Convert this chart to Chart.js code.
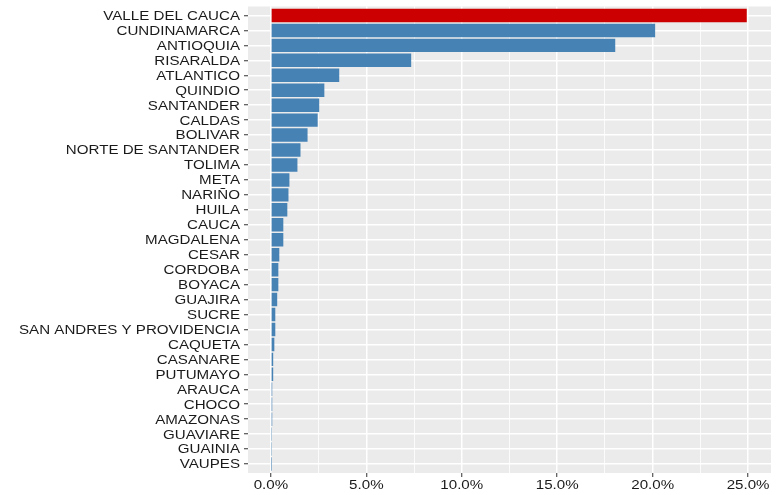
<!DOCTYPE html>
<html>
<head>
<meta charset="utf-8">
<script src="https://cdn.jsdelivr.net/npm/chart.js@4/dist/chart.umd.min.js"></script>
<style>
  html, body { margin: 0; padding: 0; background: #fff; }
  canvas { display: block; }
</style>
</head>
<body>
<canvas id="chart" width="778" height="495"></canvas>
<script>
'use strict';

// departments, top to bottom, and their share in percent
const departments = [
  'VALLE DEL CAUCA', 'CUNDINAMARCA', 'ANTIOQUIA', 'RISARALDA', 'ATLANTICO',
  'QUINDIO', 'SANTANDER', 'CALDAS', 'BOLIVAR', 'NORTE DE SANTANDER',
  'TOLIMA', 'META', 'NARIÑO', 'HUILA', 'CAUCA', 'MAGDALENA', 'CESAR',
  'CORDOBA', 'BOYACA', 'GUAJIRA', 'SUCRE', 'SAN ANDRES Y PROVIDENCIA',
  'CAQUETA', 'CASANARE', 'PUTUMAYO', 'ARAUCA', 'CHOCO', 'AMAZONAS',
  'GUAVIARE', 'GUAINIA', 'VAUPES'
];
const shares = [
  24.93, 20.13, 18.04, 7.35, 3.58,
  2.80, 2.53, 2.45, 1.92, 1.55,
  1.39, 0.97, 0.92, 0.86, 0.65, 0.65, 0.44,
  0.39, 0.39, 0.33, 0.23, 0.23,
  0.18, 0.12, 0.12, 0.07, 0.07, 0.07,
  0.02, 0.02, 0.01
];
const majorTicks = [0, 5, 10, 15, 20, 25];
const minorTicks = [2.5, 7.5, 12.5, 17.5, 22.5];
const tickLabels = ['0.0%', '5.0%', '10.0%', '15.0%', '20.0%', '25.0%'];

const isMajor = c => c.tick && majorTicks.includes(c.tick.value);

// grey ggplot panel behind the grid
const panel = {
  id: 'panel',
  beforeDraw(chart) {
    const {ctx, chartArea: a} = chart;
    ctx.save();
    ctx.fillStyle = '#FFFFFF';
    ctx.fillRect(0, 0, chart.width, chart.height);
    ctx.fillStyle = '#EBEBEB';
    ctx.fillRect(a.left, a.top, a.right - a.left, a.bottom - a.top);
    ctx.restore();
  }
};

// the original picture is stretched sideways, so the tick text is too
const STRETCH = 1.26;
const axisText = {
  id: 'axisText',
  afterDraw(chart) {
    const {ctx, scales: {x, y}} = chart;
    ctx.save();
    ctx.font = '12px "Liberation Sans", Arial, sans-serif';
    ctx.fillStyle = '#1A1A1A';
    ctx.textBaseline = 'alphabetic';

    ctx.textAlign = 'right';
    y.ticks.forEach(t => {
      ctx.save();
      ctx.translate(y.right - 8, y.getPixelForValue(t.value) + 4.4);
      ctx.scale(STRETCH, 1);
      ctx.fillText(t.label, 0, 0);
      ctx.restore();
    });

    ctx.textAlign = 'center';
    x.ticks.forEach(t => {
      if (!t.label) return;
      ctx.save();
      ctx.translate(x.getPixelForValue(t.value), x.top + 15.5);
      ctx.scale(STRETCH, 1);
      ctx.fillText(t.label, 0, 0);
      ctx.restore();
    });
    ctx.restore();
  }
};

const ctx = document.getElementById('chart').getContext('2d');

new Chart(ctx, {
  type: 'bar',
  data: {
    datasets: [{
      data: shares.map((v, i) => ({x: v, y: i})),
      backgroundColor: departments.map((d, i) => i === 0 ? '#CC0000' : '#4682B4'),
      borderWidth: 0,
      barPercentage: 0.9,
      categoryPercentage: 1
    }]
  },
  options: {
    indexAxis: 'y',
    responsive: false,
    animation: false,
    layout: { padding: { top: 6.5, right: 7, bottom: 0, left: 0 } },
    plugins: {
      legend: { display: false },
      tooltip: { enabled: false }
    },
    scales: {
      x: {
        type: 'linear',
        min: -1.2,
        max: 26.2,
        offset: false,
        afterBuildTicks: s => {
          s.ticks = majorTicks.concat(minorTicks).sort((a, b) => a - b).map(v => ({value: v}));
        },
        afterFit: s => { s.height = 22; },
        border: { display: false },
        grid: {
          offset: false,
          color: '#FFFFFF',
          lineWidth: c => isMajor(c) ? 1.5 : 0.8,
          tickColor: c => isMajor(c) ? '#333333' : 'rgba(0,0,0,0)',
          tickLength: 4,
          tickWidth: 1
        },
        ticks: {
          display: false,
          callback: v => {
            const i = majorTicks.indexOf(v);
            return i >= 0 ? tickLabels[i] : '';
          }
        }
      },
      y: {
        type: 'linear',
        reverse: true,
        offset: false,
        min: -0.6,
        max: departments.length - 0.4,
        afterBuildTicks: s => {
          s.ticks = departments.map((d, i) => ({value: i}));
        },
        afterFit: s => { s.width = 248; },
        border: { display: false },
        grid: {
          offset: false,
          color: '#FFFFFF',
          lineWidth: 1.5,
          tickColor: '#333333',
          tickLength: 4,
          tickWidth: 1
        },
        ticks: {
          display: false,
          callback: v => departments[v]
        }
      }
    }
  },
  plugins: [panel, axisText]
});
</script>
</body>
</html>
